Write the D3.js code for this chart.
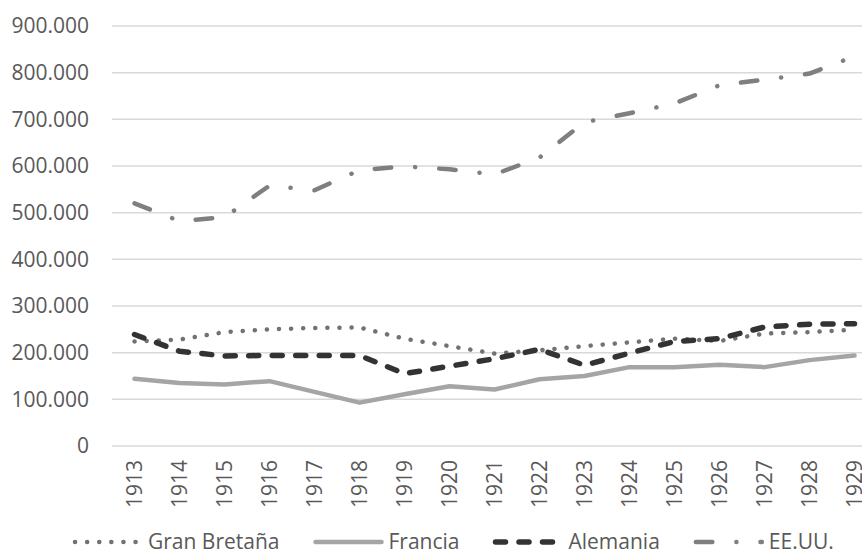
<!DOCTYPE html>
<html>
<head>
<meta charset="utf-8">
<script src="https://cdn.jsdelivr.net/npm/d3@7"></script>
<style>
  body { margin: 0; background: #fff; }
  svg { display: block; }
  .axis text, .legend text { font-family: "Open Sans", sans-serif; font-size: 21px; fill: #595959; }
</style>
</head>
<body>
<svg id="chart"></svg>
<script>
// data (values in units)
const years = ["1913", "1914", "1915", "1916", "1917", "1918", "1919", "1920", "1921",
  "1922", "1923", "1924", "1925", "1926", "1927", "1928", "1929"];
const granBretana = [224000, 228000, 244000, 250000, 253000, 254000, 230000, 214000, 198000,
  205000, 214000, 222000, 230000, 225000, 241000, 244000, 249000];
const francia = [144000, 135000, 132000, 139000, 116000, 93000, 111000, 128000, 121000,
  143000, 150000, 169000, 169000, 174000, 169000, 184000, 194000];
const alemania = [239000, 203000, 193000, 194000, 194000, 194000, 155000, 171000, 187000,
  207000, 173000, 199000, 224000, 230000, 255000, 261000, 262000];
const eeuu = [520000, 482000, 490000, 558000, 548000, 591000, 599000, 593000, 582000,
  618000, 694000, 713000, 734000, 773000, 785000, 798000, 835000];
const yTicks = [0, 100000, 200000, 300000, 400000, 500000, 600000, 700000, 800000, 900000];

const series = [
  { name: "Gran Bretaña", values: granBretana, color: "#767171", width: 4.5, dash: "0.1,12" },
  { name: "Francia", values: francia, color: "#A5A5A5", width: 4.5, dash: null },
  { name: "Alemania", values: alemania, color: "#333333", width: 5.5, dash: "10,13.5" },
  { name: "EE.UU.", values: eeuu, color: "#7F7F7F", width: 4.5, dash: "16.5,24,0.1,24" }
];

const width = 862, height = 559;
const margin = { top: 26, right: -15, bottom: 113, left: 112 };

const svg = d3.select("#chart").attr("width", width).attr("height", height);

const xScale = d3.scalePoint()
  .domain(years)
  .range([margin.left, width - margin.right])
  .padding(0.5);

const yScale = d3.scaleLinear()
  .domain([0, 900000])
  .range([height - margin.bottom, margin.top]);

const locale = d3.formatLocale({ decimal: ",", thousands: ".", grouping: [3], currency: ["", "€"] });
const fmt = locale.format(",d");

// gridlines
svg.append("g")
  .selectAll("line")
  .data(yTicks)
  .join("line")
  .attr("x1", margin.left)
  .attr("x2", width - margin.right)
  .attr("y1", d => yScale(d))
  .attr("y2", d => yScale(d))
  .attr("stroke", "#D9D9D9")
  .attr("stroke-width", 1.5);

// y axis
const yAxis = d3.axisLeft(yScale)
  .tickValues(yTicks)
  .tickSize(0)
  .tickPadding(23)
  .tickFormat(fmt);

svg.append("g")
  .attr("class", "axis y-axis")
  .attr("transform", `translate(${margin.left},0)`)
  .call(yAxis)
  .call(g => g.select(".domain").remove());

// x axis (rotated year labels)
const xAxis = d3.axisBottom(xScale).tickSize(0).tickPadding(0);

svg.append("g")
  .attr("class", "axis x-axis")
  .attr("transform", `translate(0,${height - margin.bottom})`)
  .call(xAxis)
  .call(g => g.select(".domain").remove())
  .call(g => g.selectAll("text")
    .attr("transform", "rotate(-90)")
    .attr("x", -14)
    .attr("y", 0)
    .attr("dy", "0.35em")
    .attr("text-anchor", "end"));

// lines
const line = d3.line()
  .x((d, i) => xScale(years[i]))
  .y(d => yScale(d));

svg.append("g")
  .selectAll("path")
  .data(series)
  .join("path")
  .attr("fill", "none")
  .attr("stroke", d => d.color)
  .attr("stroke-width", d => d.width)
  .attr("stroke-linecap", "round")
  .attr("stroke-linejoin", "round")
  .attr("stroke-dasharray", d => d.dash)
  .attr("d", d => line(d.values));

// legend
const legend = svg.append("g").attr("class", "legend");
const sampleW = 68, legendY = 542;
let lx = 73;
series.forEach((s) => {
  const item = legend.append("g").attr("transform", `translate(${lx},${legendY})`);
  item.append("line")
    .attr("x1", 2).attr("x2", sampleW)
    .attr("stroke", s.color)
    .attr("stroke-width", s.width)
    .attr("stroke-linecap", "round")
    .attr("stroke-dasharray", s.dash);
  const t = item.append("text")
    .attr("x", sampleW + 7)
    .attr("dy", "0.35em")
    .text(s.name);
  lx += sampleW + 7 + t.node().getComputedTextLength() + 34;
});
</script>
</body>
</html>
